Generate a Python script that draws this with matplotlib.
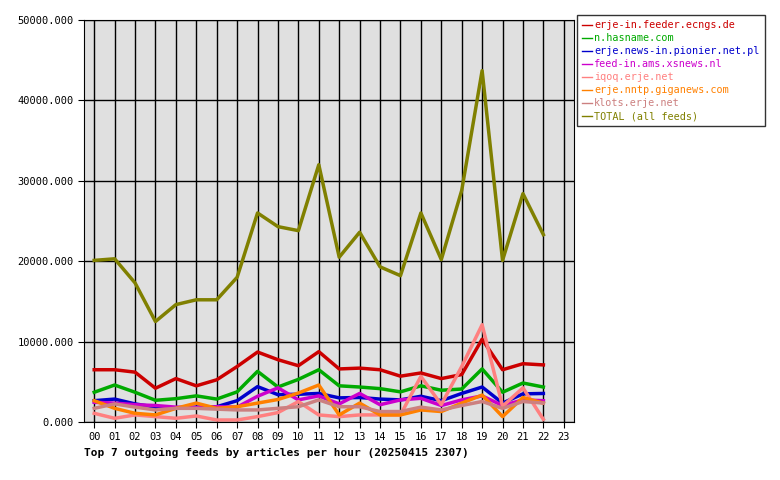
import matplotlib
matplotlib.use("Agg")
import matplotlib.pyplot as plt

hours = list(range(23))
hour_labels = [f"{h:02d}" for h in range(24)]
names = ["erje-in.feeder.ecngs.de", "n.hasname.com", "erje.news-in.pionier.net.pl",
         "feed-in.ams.xsnews.nl", "iqoq.erje.net", "erje.nntp.giganews.com",
         "klots.erje.net", "TOTAL (all feeds)"]
colors = ["#cc0000", "#00aa00", "#0000cc", "#cc00cc", "#ff8080", "#ff8000", "#cc8080", "#808000"]
ecngs = [6500,6500,6200,4200,5400,4500,5250,6900,8700,7750,7000,8750,6600,6700,6500,5700,6100,5400,5900,10300,6500,7250,7100]
hasname = [3700,4600,3700,2700,2900,3250,2850,3750,6300,4350,5300,6500,4500,4350,4150,3750,4500,3950,4100,6600,3700,4850,4350]
pionier = [2650,2850,2250,1850,1700,1850,1900,2650,4400,3400,3450,3550,3000,3050,2850,2750,3200,2650,3550,4350,2350,3500,3550]
xsnews = [2450,2350,2150,2050,1850,1800,1900,1850,3200,4250,2750,3250,2250,3550,2150,2750,2950,2050,2750,3250,2050,2750,2650]
iqoq = [1080,460,880,670,460,750,250,250,670,1170,2540,880,670,880,880,880,5670,2170,6900,12100,1960,4250,330]
giganews = [2650,1700,1080,880,1700,2350,1700,1900,2350,2800,3600,4600,880,2350,880,880,1500,1300,2350,3350,670,3050,2350]
klots = [1700,2250,1850,1500,1700,1700,1600,1500,1500,1700,1900,2750,1900,1900,1300,1300,1850,1500,2050,2550,1700,2550,2350]
total = [20100,20300,17300,12500,14600,15200,15200,18000,26000,24300,23800,32000,20500,23600,19300,18200,26000,20200,28800,43700,20100,28400,23300]
series = [ecngs, hasname, pionier, xsnews, iqoq, giganews, klots, total]

plt.rcParams["font.family"] = "DejaVu Sans Mono"
fig = plt.figure(figsize=(7.8, 4.8), dpi=100)
ax = fig.add_axes([84/780, 1-422/480, 490/780, 402/480])
ax.set_facecolor("#e0e0e0")
for s, c, n in zip(series, colors, names):
    ax.plot(hours, s, color=c, lw=2.5, label=n)
ax.set_xlim(-0.5, 23.5)
ax.set_ylim(0, 50000)
ax.set_xticks(range(24))
ax.set_xticklabels(hour_labels, fontsize=7.5)
ax.set_yticks(range(0, 50001, 10000))
ax.set_yticklabels([f"{v}.000" for v in range(0, 50001, 10000)], fontsize=7.5)
ax.grid(True, axis="x", color="black", lw=1)
ax.grid(True, axis="y", color="black", lw=1)
ax.tick_params(length=4)
ax.set_xlabel("Top 7 outgoing feeds by articles per hour (20250415 2307)",
              fontsize=8, fontweight="bold", loc="left", labelpad=4)
leg = fig.legend(*ax.get_legend_handles_labels(), loc="upper left",
                 bbox_to_anchor=(577/780, 1-15/480), fontsize=7.3, frameon=True,
                 fancybox=False, edgecolor="black", handlelength=1.0, handletextpad=0.2,
                 labelspacing=0.3, borderaxespad=0, borderpad=0.5)
for t, c in zip(leg.get_texts(), colors):
    t.set_color(c)
for l in leg.get_lines():
    l.set_linewidth(1)
fig.savefig("out.png", dpi=100)
